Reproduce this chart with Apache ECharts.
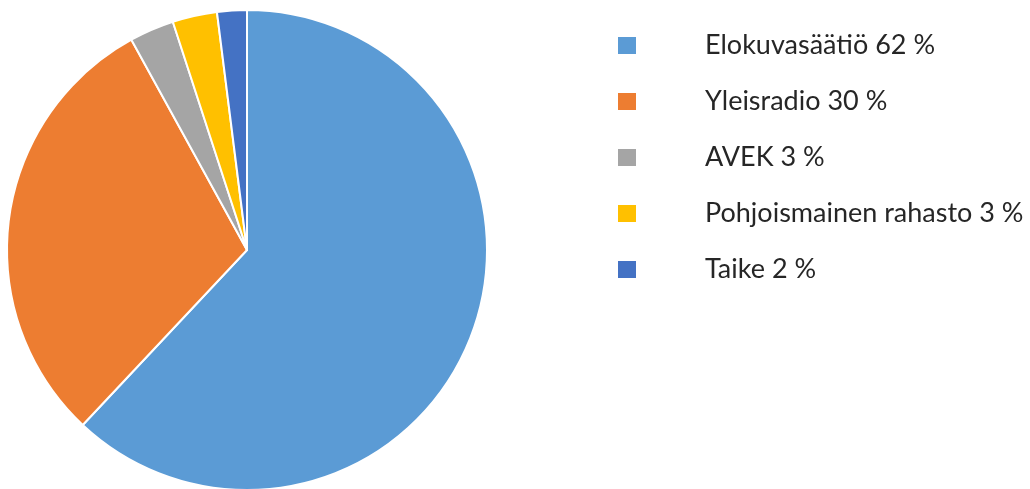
<!DOCTYPE html>
<html>
<head>
<meta charset="utf-8">
<script src="https://cdn.jsdelivr.net/npm/echarts@6/dist/echarts.min.js"></script>
<style>
html,body{margin:0;padding:0;background:#fff;}
#c{width:1030px;height:489px;}
</style>
</head>
<body>
<div id="c"></div>
<script>
var categories = ['Elokuvasäätiö', 'Yleisradio', 'AVEK', 'Pohjoismainen rahasto', 'Taike'];
var values = [62, 30, 3, 3, 2];
var colors = ['#5B9BD5', '#ED7D31', '#A5A5A5', '#FFC000', '#4472C4'];

var chart = echarts.init(document.getElementById('c'), null, {renderer: 'canvas'});
var data = categories.map(function (n, i) { return {name: n, value: values[i]}; });
chart.setOption({
  animation: false,
  color: colors,
  legend: {
    orient: 'vertical',
    left: 611,
    top: 27,
    itemWidth: 20,
    itemHeight: 19,
    itemGap: 29,
    icon: 'rect',
    formatter: function (name) {
      var i = categories.indexOf(name);
      return name + ' ' + values[i] + ' %';
    },
    textStyle: {
      fontFamily: 'Lato',
      fontSize: 27,
      lineHeight: 27,
      color: '#262626',
      padding: [0, 0, 0, 63]
    }
  },
  series: [{
    type: 'pie',
    center: [247, 250],
    radius: 240,
    startAngle: 90,
    clockwise: true,
    label: {show: false},
    labelLine: {show: false},
    itemStyle: {borderColor: '#fff', borderWidth: 2},
    emphasis: {disabled: true},
    data: data
  }]
});
</script>
</body>
</html>
